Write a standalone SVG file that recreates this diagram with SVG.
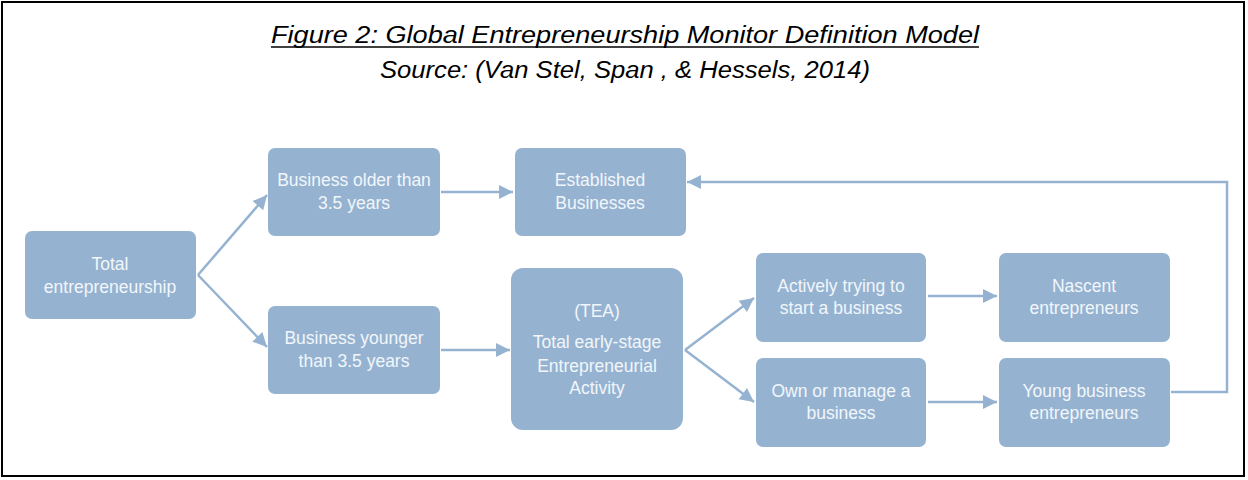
<svg xmlns="http://www.w3.org/2000/svg" width="1248" height="480" viewBox="0 0 1248 480">
  <style>
    .frame { fill: #ffffff; stroke: #000000; stroke-width: 2; }
    .title { font-family: "Liberation Sans", Arial, sans-serif; font-style: italic; font-size: 23px; fill: #000000; text-anchor: middle; }
    .box { fill: #95b3d1; }
    .label { font-family: "Liberation Sans", Arial, sans-serif; font-size: 17.5px; fill: #f2f6fa; text-anchor: middle; }
    .link { fill: none; stroke: #95b3d1; stroke-width: 2.5; }
  </style>
  <defs>
    <marker id="head" markerUnits="userSpaceOnUse" markerWidth="16" markerHeight="16" viewBox="0 0 16 16" refX="15" refY="8" orient="auto">
      <path d="M1,1 L15,8 L1,15 Z" fill="#95b3d1"/>
    </marker>
  </defs>

  <rect class="frame" x="2" y="2" width="1242" height="474"/>

  <g id="heading">
    <text class="title" x="625" y="43" textLength="708" lengthAdjust="spacingAndGlyphs">Figure 2: Global Entrepreneurship Monitor Definition Model</text>
    <line x1="271" y1="47" x2="979" y2="47" stroke="#000000" stroke-width="1.5"/>
    <text class="title" x="625" y="78" textLength="490" lengthAdjust="spacingAndGlyphs">Source: (Van Stel, Span , &amp; Hessels, 2014)</text>
  </g>

  <g id="connectors">
    <line class="link" x1="198" y1="275" x2="267" y2="195" marker-end="url(#head)"/>
    <line class="link" x1="198" y1="275" x2="267" y2="347" marker-end="url(#head)"/>
    <line class="link" x1="441" y1="192" x2="513" y2="192" marker-end="url(#head)"/>
    <line class="link" x1="441" y1="350" x2="510" y2="350" marker-end="url(#head)"/>
    <line class="link" x1="685" y1="350" x2="754" y2="298" marker-end="url(#head)"/>
    <line class="link" x1="685" y1="350" x2="754" y2="402" marker-end="url(#head)"/>
    <line class="link" x1="928" y1="296" x2="997" y2="296" marker-end="url(#head)"/>
    <line class="link" x1="928" y1="402" x2="997" y2="402" marker-end="url(#head)"/>
    <polyline class="link" points="1171,392 1227,392 1227,182 687,182" marker-end="url(#head)"/>
  </g>

  <g id="total-entrepreneurship">
    <rect class="box" x="25" y="231" width="171" height="88" rx="7"/>
    <text class="label" x="110" y="270">Total</text>
    <text class="label" x="110" y="293">entrepreneurship</text>
  </g>

  <g id="business-older">
    <rect class="box" x="268" y="148" width="172" height="88" rx="7"/>
    <text class="label" x="354" y="186">Business older than</text>
    <text class="label" x="354" y="209">3.5 years</text>
  </g>

  <g id="business-younger">
    <rect class="box" x="268" y="306" width="172" height="88" rx="7"/>
    <text class="label" x="354" y="344">Business younger</text>
    <text class="label" x="354" y="367">than 3.5 years</text>
  </g>

  <g id="established-businesses">
    <rect class="box" x="515" y="148" width="171" height="88" rx="7"/>
    <text class="label" x="600" y="186">Established</text>
    <text class="label" x="600" y="209">Businesses</text>
  </g>

  <g id="tea">
    <rect class="box" x="511" y="268" width="172" height="162" rx="12"/>
    <text class="label" x="597" y="317">(TEA)</text>
    <text class="label" x="597" y="348">Total early-stage</text>
    <text class="label" x="597" y="372">Entrepreneurial</text>
    <text class="label" x="597" y="394">Activity</text>
  </g>

  <g id="actively-trying">
    <rect class="box" x="756" y="253" width="170" height="89" rx="7"/>
    <text class="label" x="841" y="292">Actively trying to</text>
    <text class="label" x="841" y="314">start a business</text>
  </g>

  <g id="own-or-manage">
    <rect class="box" x="756" y="358" width="170" height="89" rx="7"/>
    <text class="label" x="841" y="397">Own or manage a</text>
    <text class="label" x="841" y="419">business</text>
  </g>

  <g id="nascent-entrepreneurs">
    <rect class="box" x="999" y="253" width="171" height="89" rx="7"/>
    <text class="label" x="1084" y="292">Nascent</text>
    <text class="label" x="1084" y="314">entrepreneurs</text>
  </g>

  <g id="young-business-entrepreneurs">
    <rect class="box" x="999" y="358" width="171" height="89" rx="7"/>
    <text class="label" x="1084" y="397">Young business</text>
    <text class="label" x="1084" y="419">entrepreneurs</text>
  </g>
</svg>
